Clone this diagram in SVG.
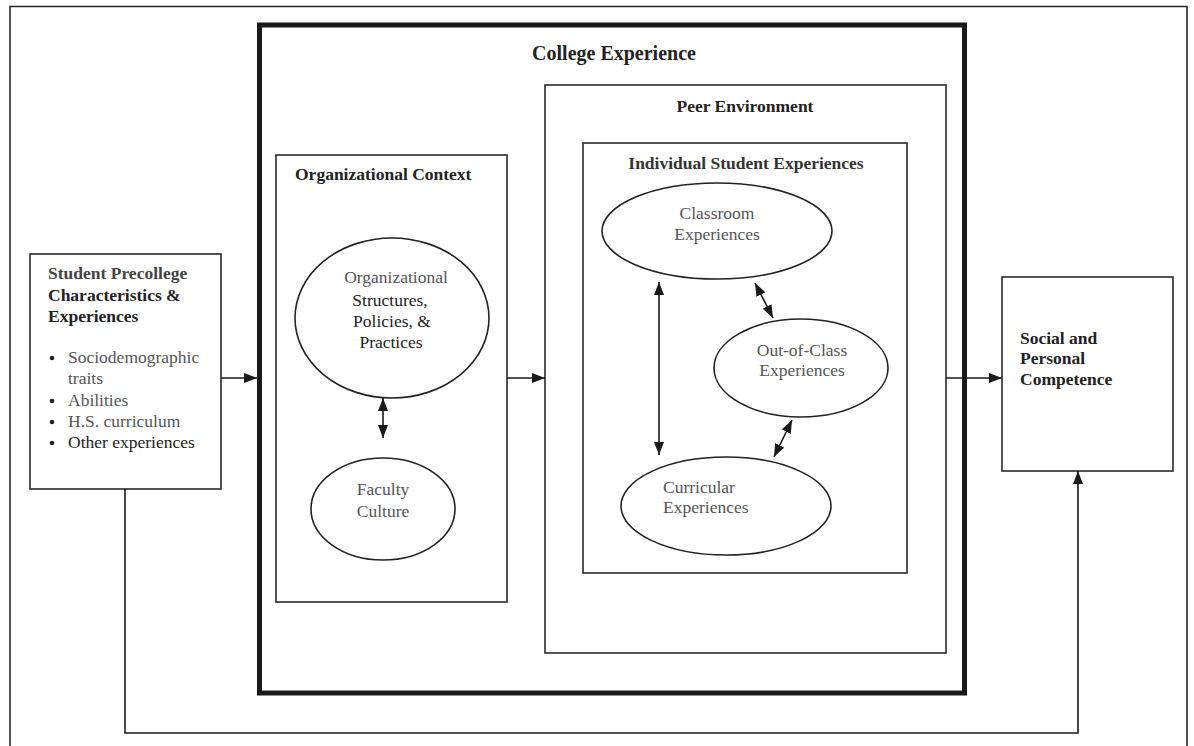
<svg xmlns="http://www.w3.org/2000/svg" width="1194" height="746" viewBox="0 0 1194 746">
<defs>
<marker id="ah" viewBox="0 0 13 10" refX="13" refY="5" markerWidth="13" markerHeight="10" markerUnits="userSpaceOnUse" orient="auto-start-reverse">
<path d="M0,0 L13,5 L0,10 z" fill="#1a1a1a"/>
</marker>
<style>
.box{fill:none;stroke:#2a2a2a;stroke-width:1.6}
.thick{fill:none;stroke:#1a1a1a;stroke-width:5}
.ell{fill:#fff;stroke:#222;stroke-width:1.6}
.t{font-family:"Liberation Serif","Times New Roman",serif;font-size:17.5px;fill:#222}
.b{font-weight:bold}
.l{fill:#555}
.m{text-anchor:middle}
.c{fill:none;stroke:#1a1a1a;stroke-width:1.6}
</style>
</defs>
<rect width="1194" height="746" fill="#fff"/>
<path d="M10,760 V6.5 H1187 V760" class="box"/>

<g id="college">
<rect x="259.5" y="25" width="705" height="668" class="thick"/>
<text x="614" y="60" class="t b m" style="font-size:20px">College Experience</text>
</g>

<g id="student">
<rect x="30" y="254" width="191" height="235" class="box" fill="#fff"/>
<text class="t b" x="48" y="279" style="fill:#444">Student Precollege</text>
<text class="t b" x="48" y="301">Characteristics &amp;</text>
<text class="t b" x="48" y="322">Experiences</text>
<g fill="#222"><circle cx="52" cy="358" r="2.3"/><circle cx="52" cy="401" r="2.3"/><circle cx="52" cy="422" r="2.3"/><circle cx="52" cy="443" r="2.3"/></g>
<text class="t l" x="68" y="363">Sociodemographic</text>
<text class="t l" x="68" y="384">traits</text>
<text class="t l" x="68" y="406">Abilities</text>
<text class="t l" x="68" y="427">H.S. curriculum</text>
<text class="t" x="68" y="448">Other experiences</text>
</g>

<g id="orgcontext">
<rect x="276" y="155" width="231" height="447" class="box"/>
<text class="t b" x="295" y="180">Organizational Context</text>
</g>
<g id="orgstructures">
<ellipse cx="392" cy="318" rx="97" ry="80" class="ell"/>
<text class="t l m" x="396" y="283">Organizational</text>
<text class="t m" x="390" y="306">Structures,</text>
<text class="t m" x="392" y="327">Policies, &amp;</text>
<text class="t m" x="391" y="348">Practices</text>
</g>
<g id="faculty">
<ellipse cx="383" cy="509" rx="72" ry="51" class="ell"/>
<text class="t l m" x="383" y="495">Faculty</text>
<text class="t l m" x="383" y="517">Culture</text>
</g>

<g id="peer">
<rect x="545" y="85" width="401" height="568" class="box"/>
<text class="t b m" x="745" y="112">Peer Environment</text>
</g>
<g id="individual">
<rect x="583" y="143" width="324" height="430" class="box"/>
<text class="t b m" x="746" y="169" style="fill:#333">Individual Student Experiences</text>
</g>
<g id="classroom">
<ellipse cx="717" cy="231" rx="115" ry="48" class="ell"/>
<text class="t l m" x="717" y="219">Classroom</text>
<text class="t l m" x="717" y="240">Experiences</text>
</g>
<g id="outofclass">
<ellipse cx="801" cy="368" rx="87" ry="49" class="ell"/>
<text class="t l m" x="802" y="356">Out-of-Class</text>
<text class="t l m" x="802" y="376">Experiences</text>
</g>
<g id="curricular">
<ellipse cx="726" cy="506" rx="105" ry="49" class="ell"/>
<text class="t l" x="663" y="493">Curricular</text>
<text class="t l" x="663" y="513">Experiences</text>
</g>

<g id="competence">
<rect x="1002" y="277" width="171" height="194" class="box" fill="#fff"/>
<text class="t b" x="1020" y="344">Social and</text>
<text class="t b" x="1020" y="364">Personal</text>
<text class="t b" x="1020" y="385">Competence</text>
</g>

<g id="connectors">
<line x1="221" y1="378" x2="257" y2="378" class="c" marker-end="url(#ah)"/>
<line x1="507" y1="378" x2="545" y2="378" class="c" marker-end="url(#ah)"/>
<line x1="946" y1="378" x2="1002" y2="378" class="c" marker-end="url(#ah)"/>
<polyline points="125,489 125,733 1078,733 1078,471" class="c" stroke="#333" marker-end="url(#ah)"/>
<line x1="383" y1="398" x2="383" y2="438" class="c" marker-start="url(#ah)" marker-end="url(#ah)"/>
<line x1="659" y1="282" x2="659" y2="455" class="c" marker-start="url(#ah)" marker-end="url(#ah)"/>
<line x1="755" y1="283" x2="773" y2="318" class="c" marker-start="url(#ah)" marker-end="url(#ah)"/>
<line x1="792" y1="420" x2="774" y2="457" class="c" marker-start="url(#ah)" marker-end="url(#ah)"/>
</g>
</svg>
